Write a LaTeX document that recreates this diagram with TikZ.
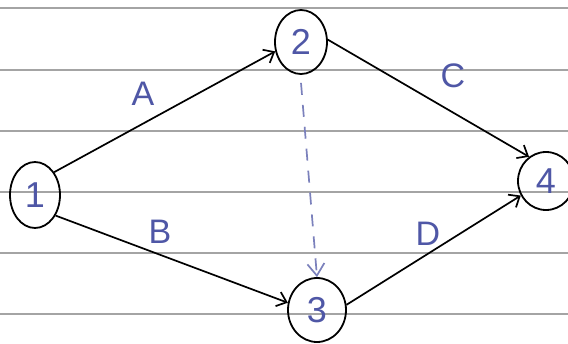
\documentclass[tikz,border=0pt]{standalone}
\usepackage{fontspec}
\setmainfont{Liberation Sans}
\usepackage{tikz}
\usetikzlibrary{arrows.meta,shapes.geometric}
\definecolor{inkblue}{HTML}{4F57A6}
\definecolor{ruleline}{HTML}{A4A4A4}

\begin{document}
\begin{tikzpicture}[x=1pt, y=-1pt,
  event/.style={draw=black, ellipse, line width=1.8pt, inner sep=0pt, text=inkblue, font=\fontsize{36}{36}\selectfont},
  act/.style={draw=black, line width=1.7pt, -{Straight Barb[length=9pt,width=15pt,line width=1.7pt]}},
  dummy/.style={draw=inkblue!75, line width=1.7pt, dash pattern=on 12pt off 10pt, -{Straight Barb[length=12pt,width=17pt,line width=1.7pt]}},
  lbl/.style={text=inkblue, font=\fontsize{34}{34}\selectfont}]
\useasboundingbox[fill=white] (0,0) rectangle (568,343);
\foreach \y in {8,70,131,192,253,314}
  \draw[ruleline, line width=1.6pt] (0,\y) -- (568,\y);
\node[event, minimum width=50pt, minimum height=66pt] (n1) at (35,195) {1};
\node[event, minimum width=52pt, minimum height=64pt] (n2) at (301,42) {2};
\node[event, minimum width=58pt, minimum height=64pt] (n3) at (317,310) {3};
\node[event, minimum width=56pt, minimum height=58pt] (n4) at (546,181) {4};
\draw[act] (n1.50) -- (n2.200);
\draw[act] (n1.-45) -- (n3.166);
\draw[act] (n2.5) -- (n4.125);
\draw[act] (n3.10) -- (n4.210);
\draw[dummy] ([yshift=-8pt]n2.south) -- (n3.north);
\node[lbl] (lblA) at (143,94) {A};
\node[lbl] (lblB) at (160,232) {B};
\node[lbl] (lblC) at (453,76) {C};
\node[lbl] (lblD) at (428,234) {D};
\end{tikzpicture}
\end{document}
